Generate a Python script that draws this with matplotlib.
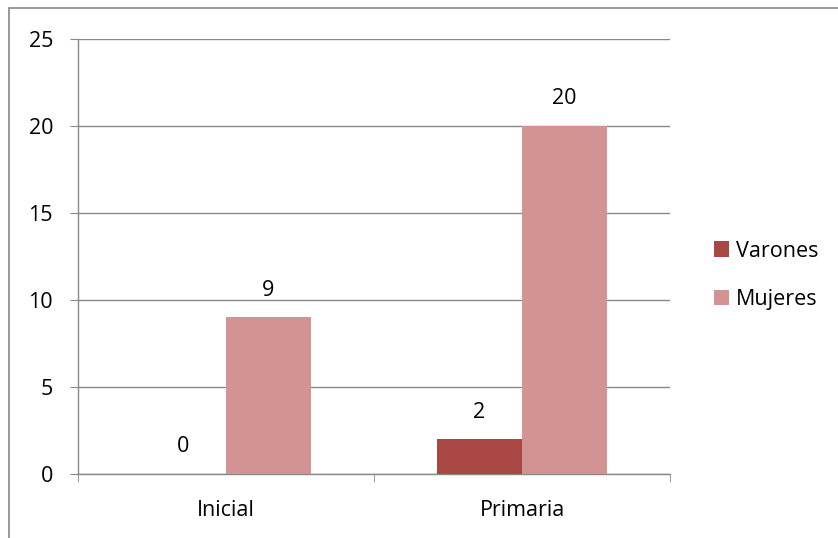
import matplotlib
matplotlib.use("Agg")
import matplotlib.pyplot as plt
import numpy as np
from matplotlib.patches import Rectangle

categories = ["Inicial", "Primaria"]
series_names = ["Varones", "Mujeres"]
varones = [0, 2]
mujeres = [9, 20]
yticks = [0, 5, 10, 15, 20, 25]
colors = ["#A94744", "#D39392"]

plt.rcParams['font.family'] = ['Open Sans', 'DejaVu Sans']
FS = 15.5
W, H = 838, 538
fig = plt.figure(figsize=(W/100, H/100), dpi=100)
ax = fig.add_axes([78/W, 1-474/H, (670-78)/W, (474-39)/H])

x = np.arange(len(categories))
bw = 0.287
vals = [varones, mujeres]
for i, (name, v, c) in enumerate(zip(series_names, vals, colors)):
    off = (i - 0.5) * bw
    ax.bar(x + off, v, bw, color=c, label=name, zorder=3)
    for xi, vi in zip(x + off, v):
        ax.annotate(str(vi), (xi, vi), xytext=(0, 19.5), textcoords='offset points',
                    ha='center', va='center', fontsize=FS, color='black')

ax.set_xlim(-0.5, 1.5)
ax.set_ylim(0, 25)
ax.set_yticks(yticks)
ax.set_xticks(x)
ax.set_xticklabels(categories)
ax.yaxis.grid(True, color='#888888', linewidth=1, zorder=0)
ax.set_axisbelow(True)
for s in ['top', 'right']:
    ax.spines[s].set_visible(False)
for s in ['left', 'bottom']:
    ax.spines[s].set_color('#888888')
    ax.spines[s].set_linewidth(1)
ax.tick_params(axis='y', length=6, color='#888888', labelsize=FS, pad=12)
ax.tick_params(axis='x', length=0, labelsize=FS, pad=18.5)
ax.set_xticks([-0.5, 0.5, 1.5], minor=True)
ax.tick_params(axis='x', which='minor', length=6, color='#888888', direction='out')

ax_w = 670 - 78
leg = ax.legend(loc='center left', bbox_to_anchor=((714 - 78) / ax_w, (474 - 275.5) / 435),
                frameon=False, fontsize=FS, handlelength=0.7, handleheight=0.7,
                handletextpad=0.3, labelspacing=1.3, borderaxespad=0, borderpad=0)

fig.patches.append(Rectangle((9/W, -0.01), 1.0, 1 - 8/H + 0.01, transform=fig.transFigure,
                             fill=False, edgecolor='#888888', linewidth=1.2))
fig.savefig("out.png", dpi=100)
